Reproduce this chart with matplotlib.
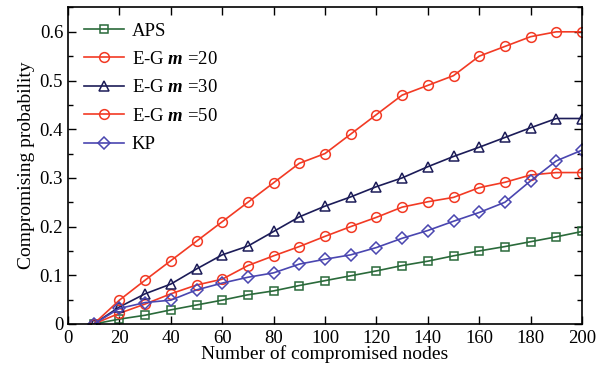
import matplotlib
matplotlib.use("Agg")
import matplotlib.pyplot as plt
from matplotlib.ticker import MultipleLocator, FuncFormatter

plt.rcParams['font.family'] = ['Liberation Serif', 'DejaVu Serif']
plt.rcParams['mathtext.fontset'] = 'custom'
plt.rcParams['mathtext.it'] = 'Liberation Serif:italic:bold'
plt.rcParams['mathtext.rm'] = 'Liberation Serif'

x = [10, 20, 30, 40, 50, 60, 70, 80, 90, 100, 110, 120, 130, 140, 150, 160, 170, 180, 190, 200]
aps = [0, 0.01, 0.018, 0.029, 0.039, 0.049, 0.06, 0.068, 0.079, 0.089, 0.099, 0.109, 0.12, 0.129, 0.14, 0.15, 0.159, 0.169, 0.179, 0.19]
eg20 = [0, 0.022, 0.041, 0.062, 0.08, 0.092, 0.12, 0.14, 0.159, 0.18, 0.2, 0.219, 0.24, 0.251, 0.26, 0.28, 0.291, 0.306, 0.311, 0.311]
eg30 = [0, 0.035, 0.062, 0.082, 0.113, 0.142, 0.16, 0.19, 0.22, 0.242, 0.261, 0.282, 0.30, 0.323, 0.344, 0.363, 0.383, 0.403, 0.422, 0.422]
eg50 = [0, 0.049, 0.09, 0.13, 0.17, 0.21, 0.25, 0.29, 0.33, 0.35, 0.39, 0.43, 0.47, 0.49, 0.51, 0.55, 0.57, 0.59, 0.60, 0.60]
kp = [0, 0.032, 0.044, 0.049, 0.07, 0.084, 0.096, 0.105, 0.123, 0.133, 0.142, 0.157, 0.176, 0.192, 0.211, 0.229, 0.25, 0.294, 0.335, 0.357]

fig = plt.figure(figsize=(5.97, 3.76), dpi=100)
ax = fig.add_axes([68 / 597, 1 - 324 / 376, (582 - 68) / 597, (324 - 6.5) / 376])

kw = dict(markerfacecolor='none', markersize=7, linewidth=1.2, markeredgewidth=1.1)
ax.plot(x, aps, marker='s', color='#2a6a3a', label='APS', markersize=6, linewidth=1.2, markerfacecolor='none', markeredgewidth=1.1)
ax.plot(x, eg20, marker='o', color='#f23a24', label=r'E-G $m$ =20', **kw)
ax.plot(x, eg30, marker='^', color='#1c1c58', label=r'E-G $m$ =30', **kw)
ax.plot(x, eg50, marker='o', color='#f23a24', label=r'E-G $m$ =50', **kw)
ax.plot(x, kp, marker='D', color='#4a46b0', label='KP', markersize=6, linewidth=1.2, markerfacecolor='none', markeredgewidth=1.1)

ax.set_xlim(0, 200)
ax.set_ylim(0, 0.652)
ax.xaxis.set_major_locator(MultipleLocator(20))
ax.yaxis.set_major_locator(MultipleLocator(0.1))
ax.yaxis.set_minor_locator(MultipleLocator(0.05))
ax.yaxis.set_major_formatter(FuncFormatter(lambda v, p: '0' if abs(v) < 1e-9 else f'{v:.1f}'))
ax.tick_params(which='major', direction='in', top=True, right=True, labelsize=13.5, length=6, width=1)
ax.tick_params(which='minor', direction='in', top=True, right=True, length=3.5, width=1)
ax.tick_params(axis='x', pad=4)
for s in ax.spines.values():
    s.set_linewidth(1.2)

ax.set_xlabel('Number of compromised nodes', fontsize=14, labelpad=-1)
ax.set_ylabel('Compromising probability', fontsize=14, labelpad=3)

ax.legend(loc='upper left', frameon=False, fontsize=13.5, handlelength=2.15,
          bbox_to_anchor=(0.0, 1.0), borderaxespad=0.45, labelspacing=0.6, handletextpad=0.4)

fig.savefig('out.png', dpi=100)
